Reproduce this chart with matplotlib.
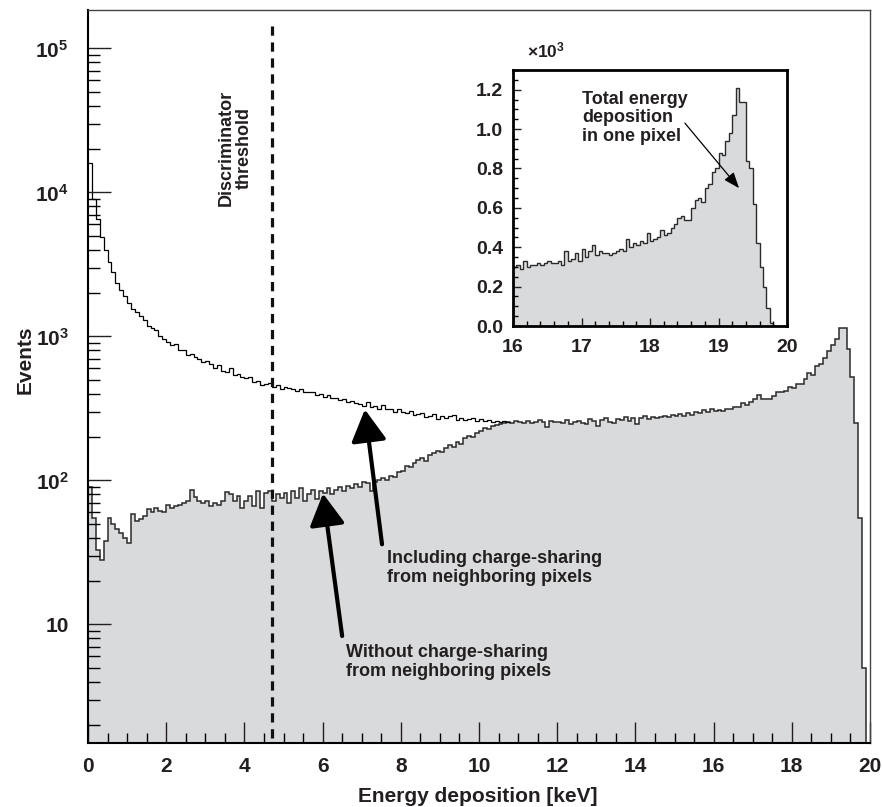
import numpy as np
import matplotlib
matplotlib.use('Agg')
import matplotlib.pyplot as plt
from matplotlib.ticker import MultipleLocator, LogLocator, NullFormatter, FixedLocator, FixedFormatter, FormatStrFormatter

plt.rcParams['font.family'] = ['Liberation Sans', 'DejaVu Sans']
plt.rcParams['font.weight'] = 'bold'
plt.rcParams['mathtext.fontset'] = 'custom'
plt.rcParams['mathtext.rm'] = 'Liberation Sans:bold'
plt.rcParams['mathtext.bf'] = 'Liberation Sans:bold'
plt.rcParams['mathtext.it'] = 'Liberation Sans:bold'

# main spectrum, 0.1 keV bins starting at 0 keV
bin_width = 0.1
without_sharing = [
    90, 55, 33, 28, 38, 55, 50, 46, 43, 40,
    37, 58, 52, 54, 57, 63, 60, 64, 61, 60,
    67, 64, 66, 68, 70, 72, 86, 77, 72, 70,
    72, 66, 70, 68, 72, 83, 80, 72, 78, 64,
    72, 78, 66, 85, 64, 82, 85, 72, 80, 76,
    82, 70, 84, 76, 88, 72, 80, 86, 74, 84,
    82, 88, 80, 86, 90, 84, 92, 88, 95, 90,
    98, 96, 85, 98, 100, 104, 101, 108, 106, 114,
    116, 126, 124, 132, 138, 142, 136, 150, 155, 160,
    158, 168, 175, 170, 185, 180, 198, 205, 200, 215,
    222, 230, 228, 238, 242, 248, 252, 255, 250, 258,
    255, 252, 258, 250, 256, 262, 254, 236, 258, 253,
    255, 250, 262, 248, 256, 260, 252, 246, 266, 258,
    240, 262, 270, 256, 252, 268, 262, 274, 258, 270,
    248, 272, 280, 268, 276, 270, 274, 282, 276, 284,
    278, 290, 282, 296, 286, 300, 292, 306, 298, 312,
    305, 310, 305, 315, 315, 325, 325, 345, 335, 350,
    370, 395, 370, 370, 365, 385, 410, 410, 420, 445,
    435, 470, 465, 510, 555, 540, 620, 640, 710, 790,
    875, 960, 1140, 1140, 820, 520, 250, 55, 5,
]
with_sharing = [
    16000, 9000, 6500, 4900, 4000, 3300, 2800, 2350, 2100, 1900,
    1700, 1560, 1480, 1380, 1290, 1190, 1150, 1100, 1010, 960,
    920, 870, 880, 810, 800, 745, 760, 720, 700, 665,
    670, 640, 600, 630, 575, 565, 600, 540, 550, 520,
    515, 525, 485, 490, 462, 468, 475, 445, 460, 432,
    445, 436, 432, 418, 434, 410, 408, 414, 395, 398,
    380, 392, 372, 372, 360, 366, 350, 356, 345, 342,
    330, 350, 326, 330, 315, 334, 312, 314, 300, 312,
    298, 292, 304, 286, 288, 296, 276, 280, 288, 268,
    282, 270, 278, 284, 264, 272, 262, 266, 270, 258,
    265, 258, 262, 256, 260, 254, 258, 256,
]

# inset: 16-20 keV, 0.05 keV bins, counts in units of 10^3
inset_start = 16.0
inset_bin_width = 0.05
inset_counts_k = [
    0.30, 0.31, 0.29, 0.33, 0.30, 0.31, 0.31, 0.32, 0.31, 0.32,
    0.33, 0.32, 0.32, 0.33, 0.31, 0.38, 0.33, 0.34, 0.37, 0.33,
    0.39, 0.35, 0.38, 0.41, 0.36, 0.38, 0.37, 0.37, 0.36, 0.37,
    0.38, 0.39, 0.38, 0.44, 0.40, 0.42, 0.41, 0.43, 0.42, 0.47,
    0.43, 0.44, 0.45, 0.49, 0.46, 0.47, 0.50, 0.52, 0.55, 0.56,
    0.54, 0.54, 0.60, 0.64, 0.65, 0.63, 0.70, 0.72, 0.78, 0.80,
    0.88, 0.87, 0.94, 0.98, 1.07, 1.21, 1.14, 1.14, 0.84, 0.80,
    0.62, 0.42, 0.30, 0.20, 0.09, 0.015, 0, 0, 0, 0,
]

threshold_kev = 4.7
ytick_vals = [10, 1e2, 1e3, 1e4, 1e5]
ytick_labels = ['10', r'$10^2$', r'$10^3$', r'$10^4$', r'$10^5$']

fill_col = '#d9dadc'
edge_col = '#2b2b2b'
txt_col = '#231f20'

fig = plt.figure(figsize=(8.82, 8.07), dpi=100)
ax = fig.add_axes([88/882, 1 - 743/807, 782/882, 733/807])
ax.set_yscale('log')

edges = np.arange(len(without_sharing) + 1) * bin_width
ax.stairs(without_sharing, edges, fill=True, color=fill_col, baseline=1.0, lw=0)
ax.stairs(without_sharing, edges, color=edge_col, lw=1.1, baseline=1.0)
edges_ws = np.arange(len(with_sharing) + 1) * bin_width
ax.stairs(with_sharing, edges_ws, color='k', lw=0.9, baseline=None)

ax.axvline(threshold_kev, ymin=0.007, ymax=0.982, color='#111111', lw=2.3,
           ls=(0, (2.9, 2.1)))

ax.set_xlim(0, 20)
ax.set_ylim(1.5, 1.85e5)
ax.xaxis.set_major_locator(MultipleLocator(2))
ax.xaxis.set_minor_locator(MultipleLocator(0.5))
ax.yaxis.set_major_locator(FixedLocator(ytick_vals))
ax.yaxis.set_major_formatter(FixedFormatter(ytick_labels))
ax.yaxis.set_minor_locator(LogLocator(base=10, subs=np.arange(2, 10)))
ax.yaxis.set_minor_formatter(NullFormatter())
ax.tick_params(axis='y', which='major', direction='in', length=16.5, width=1, pad=14,
               labelsize=15, colors=txt_col)
ax.tick_params(axis='y', which='minor', direction='in', length=8.5, width=1)
ax.tick_params(axis='x', which='major', direction='in', length=15, width=1, pad=10,
               labelsize=15, colors=txt_col)
ax.tick_params(axis='x', which='minor', direction='in', length=7, width=1)
for s in ['left', 'bottom']:
    ax.spines[s].set_linewidth(1.5)
for s in ['top', 'right']:
    ax.spines[s].set_linewidth(1.0)
    ax.spines[s].set_color('#444444')

fig.text(478/882, 1 - 797/807, 'Energy deposition [keV]', ha='center', va='center',
         fontsize=15, color=txt_col)
fig.text(25/882, 1 - 360/807, 'Events', rotation=90, ha='center', va='center',
         fontsize=15, color=txt_col)

ax.text(3.76, 2.05e4, 'Discriminator\nthreshold', rotation=90, ha='center', va='center',
        multialignment='center', fontsize=13, color=txt_col, linespacing=1.1)

big_arrow = dict(arrowstyle='-|>,head_length=0.97,head_width=0.54', lw=3, color='k',
                 mutation_scale=20, shrinkA=0, shrinkB=0)
ax.annotate('', xy=(7.08, 311), xytext=(7.52, 36), arrowprops=big_arrow)
ax.annotate('', xy=(6.01, 81), xytext=(6.5, 8.3), arrowprops=big_arrow)
ax.text(7.65, 24.7, 'Including charge-sharing\nfrom neighboring pixels', ha='left', va='center',
        fontsize=13, color=txt_col, linespacing=1.15)
ax.text(6.6, 5.45, 'Without charge-sharing\nfrom neighboring pixels', ha='left', va='center',
        fontsize=13, color=txt_col, linespacing=1.15)

# inset
axi = fig.add_axes([513/882, 1 - 326/807, 274/882, 256/807])
edges_in = inset_start + np.arange(len(inset_counts_k) + 1) * inset_bin_width
axi.stairs(inset_counts_k, edges_in, fill=True, color=fill_col, lw=0)
axi.stairs(inset_counts_k, edges_in, color=edge_col, lw=1.0, baseline=0)
axi.set_xlim(16, 20)
axi.set_ylim(0, 1.3)
axi.xaxis.set_major_locator(MultipleLocator(1))
axi.xaxis.set_minor_locator(MultipleLocator(0.2))
axi.yaxis.set_major_locator(MultipleLocator(0.2))
axi.yaxis.set_minor_locator(MultipleLocator(0.05))
axi.yaxis.set_major_formatter(FormatStrFormatter('%.1f'))
axi.tick_params(which='major', direction='in', length=6, width=1, labelsize=14, colors=txt_col)
axi.tick_params(which='minor', direction='in', length=3.5, width=1)
axi.tick_params(axis='x', which='major', pad=9)
axi.tick_params(axis='y', which='major', pad=7)
for s in axi.spines.values():
    s.set_linewidth(2)
axi.text(0.05, 1.078, r'$\times10^3$', transform=axi.transAxes, ha='left', va='center',
         fontsize=12.5, color=txt_col)
axi.text(0.252, 0.8125, 'Total energy\ndeposition\nin one pixel', transform=axi.transAxes,
         ha='left', va='center', fontsize=13, color=txt_col, linespacing=1.1)
axi.annotate('', xy=(19.30, 0.70), xytext=(18.51, 1.03),
             arrowprops=dict(arrowstyle='-|>,head_length=0.6,head_width=0.23', lw=0.9,
                             color='k', mutation_scale=16, shrinkA=0, shrinkB=0))

fig.savefig('out.png', dpi=100)
